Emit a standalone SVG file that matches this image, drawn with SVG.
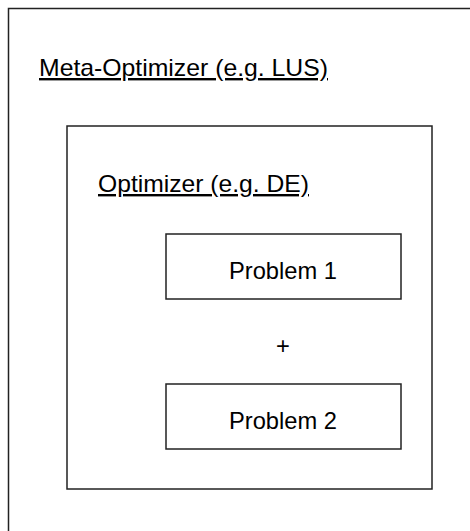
<svg xmlns="http://www.w3.org/2000/svg" width="470" height="531" viewBox="0 0 470 531">
<style>
.box{fill:#fff;stroke:#222;stroke-width:1.5}
.lbl{font-family:"Liberation Sans",Arial,sans-serif;fill:#000;text-decoration:underline}
.t{font-family:"Liberation Sans",Arial,sans-serif;fill:#000;text-anchor:middle}
</style>
<rect width="470" height="531" fill="#fff"/>
<g id="meta">
<rect class="box" x="8.5" y="8.5" width="480" height="540"/>
<text class="lbl" x="39" y="76" font-size="24" textLength="289" lengthAdjust="spacingAndGlyphs">Meta-Optimizer (e.g. LUS)</text>
</g>
<g id="optimizer">
<rect class="box" x="67" y="126" width="365" height="363"/>
<text class="lbl" x="98" y="192" font-size="24" textLength="211" lengthAdjust="spacingAndGlyphs">Optimizer (e.g. DE)</text>
</g>
<g id="problem1">
<rect class="box" x="166" y="234" width="235" height="65"/>
<text class="t" x="283" y="279" font-size="23.7" textLength="108" lengthAdjust="spacingAndGlyphs">Problem 1</text>
</g>
<g id="plus">
<text class="t" x="283" y="354" font-size="23.7">+</text>
</g>
<g id="problem2">
<rect class="box" x="166" y="384" width="235" height="65"/>
<text class="t" x="283" y="429" font-size="23.7" textLength="108" lengthAdjust="spacingAndGlyphs">Problem 2</text>
</g>
<g id="connectors"></g>
</svg>
